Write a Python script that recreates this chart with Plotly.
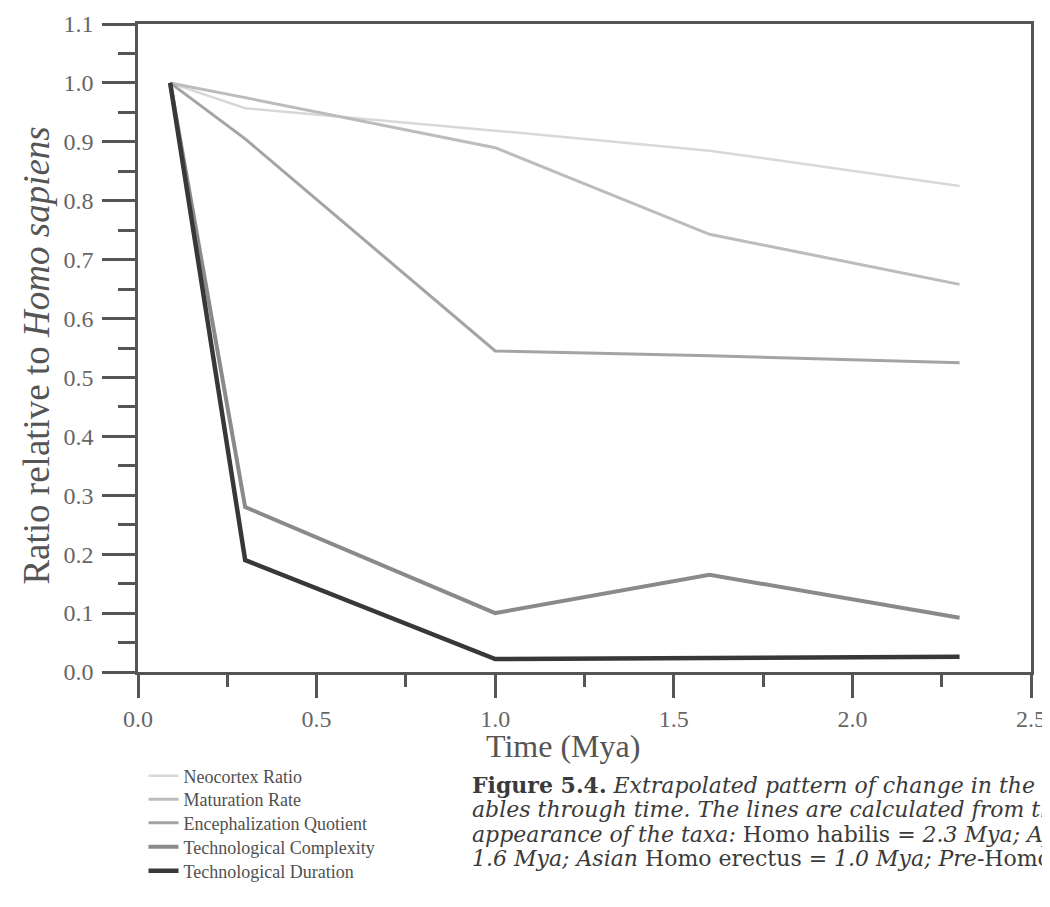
import plotly.graph_objects as go

# ---- data ----
time_mya = [0.09, 0.3, 1.0, 1.6, 2.3]
neocortex_ratio = [1.0, 0.957, 0.919, 0.885, 0.825]
maturation_rate = [1.0, 0.975, 0.890, 0.743, 0.658]
encephalization_quotient = [1.0, 0.905, 0.545, 0.537, 0.525]
technological_complexity = [1.0, 0.28, 0.10, 0.165, 0.092]
technological_duration = [1.0, 0.19, 0.022, 0.024, 0.026]

series_names = ["Neocortex Ratio", "Maturation Rate", "Encephalization Quotient",
                "Technological Complexity", "Technological Duration"]
series_values = [neocortex_ratio, maturation_rate, encephalization_quotient,
                 technological_complexity, technological_duration]
series_colors = ["#d8d8d8", "#bcbcbc", "#a4a4a4", "#8a8a8a", "#383838"]
series_widths = [2.5, 3, 3, 4, 4.5]

x_ticks = [0.0, 0.5, 1.0, 1.5, 2.0, 2.5]
y_ticks = [0.0, 0.1, 0.2, 0.3, 0.4, 0.5, 0.6, 0.7, 0.8, 0.9, 1.0, 1.1]

caption_lines = [
    "<b>Figure 5.4.</b> <i>Extrapolated pattern of change in the vari-</i>",
    "<i>ables through time. The lines are calculated from the first</i>",
    "<i>appearance of the taxa:</i> Homo habilis = <i>2.3 Mya; African</i>",
    "<i>1.6 Mya; Asian</i> Homo erectus = <i>1.0 Mya; Pre-</i>Homo",
]

FONT = "Liberation Serif, Times New Roman, serif"
CAPFONT = "DejaVu Serif, serif"
AXC = "#555555"

# figure is placed inside the page body (8px default margin)
W, H = 1042, 899
ml, mr, mt, mb = 129.5, 19, 16, 235
pw, ph = W - ml - mr, H - mt - mb

def px_x(p):
    return (p - ml) / pw

def px_y(p):
    return (H - mb - p) / ph

legend_rows = [768, 791.5, 815, 839, 863]
legend_ids = ["legend", "legend2", "legend3", "legend4", "legend5"]

fig = go.Figure()
for name, vals, col, w, lid in zip(series_names, series_values, series_colors,
                                   series_widths, legend_ids):
    fig.add_trace(go.Scatter(x=time_mya, y=vals, mode="lines", name=name,
                             legend=lid, line=dict(color=col, width=w)))

layout_legends = {}
for lid, row in zip(legend_ids, legend_rows):
    layout_legends[lid] = dict(x=px_x(135), y=px_y(row), xanchor="left", yanchor="middle",
                               font=dict(family=FONT, size=18, color="#505050"),
                               itemwidth=30, bgcolor="rgba(0,0,0,0)", borderwidth=0)

fig.update_layout(
    width=W, height=H,
    margin=dict(l=ml, r=mr, t=mt, b=mb, pad=0, autoexpand=False),
    paper_bgcolor="white", plot_bgcolor="white",
    font=dict(family=FONT, color=AXC),
    showlegend=True,
    **layout_legends,
)

fig.update_xaxes(range=[0, 2.5], tickvals=x_ticks, ticktext=[f"{v:.1f}" for v in x_ticks],
                 showgrid=False, zeroline=False, showline=True, mirror=True,
                 linecolor=AXC, linewidth=2.5,
                 ticks="outside", ticklen=23, tickwidth=2.5, tickcolor=AXC,
                 tickfont=dict(family=FONT, size=24, color="#666666"),
                 minor=dict(dtick=0.25, tick0=0, ticks="outside", ticklen=12,
                            tickwidth=2.5, tickcolor=AXC))
fig.update_yaxes(range=[0, 1.1], tickvals=y_ticks, ticktext=[f"{v:.1f}" for v in y_ticks],
                 showgrid=False, zeroline=False, showline=True, mirror=True,
                 linecolor=AXC, linewidth=2.5,
                 ticks="outside", ticklen=33, tickwidth=2.5, tickcolor=AXC,
                 ticklabelstandoff=4,
                 tickfont=dict(family=FONT, size=24, color="#666666"),
                 minor=dict(dtick=0.05, tick0=0, ticks="outside", ticklen=17,
                            tickwidth=2.5, tickcolor=AXC))

# axis titles
fig.add_annotation(text="Time (Mya)", xref="paper", yref="paper",
                   x=px_x(555), y=px_y(738), xanchor="center", yanchor="middle",
                   showarrow=False, font=dict(family=FONT, size=32, color="#555555"))
fig.add_annotation(text="Ratio relative to <i>Homo sapiens</i>", xref="paper", yref="paper",
                   x=px_x(27), y=px_y(348), xanchor="center", yanchor="middle", textangle=-90,
                   showarrow=False, font=dict(family=FONT, size=37, color="#555555"))

# caption
caption_rows = [777, 801.5, 826, 850.5]
for line, row in zip(caption_lines, caption_rows):
    fig.add_annotation(text=line, xref="paper", yref="paper",
                       x=px_x(462), y=px_y(row), xanchor="left", yanchor="middle",
                       align="left", showarrow=False,
                       font=dict(family=CAPFONT, size=22, color="#3a3a3a"))

fig.write_html("out.html")
